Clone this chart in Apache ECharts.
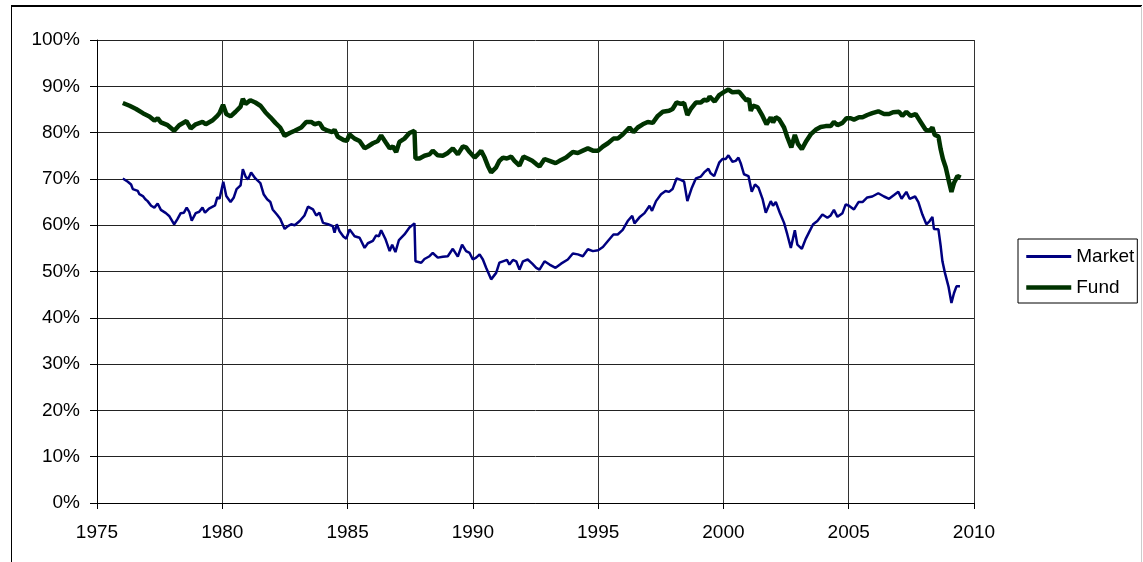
<!DOCTYPE html>
<html>
<head>
<meta charset="utf-8">
<title>Market vs Fund</title>
<script src="https://cdn.jsdelivr.net/npm/echarts@6/dist/echarts.min.js"></script>
<style>
  html, body { margin: 0; padding: 0; background: #fff; }
  #chart { width: 1143px; height: 562px; }
</style>
</head>
<body>
<div id="chart"></div>
<script>
// decimal years and percent values
var fundYears = [
  1976.03, 1976.30, 1976.56, 1976.83, 1977.09, 1977.29, 1977.42, 1977.55, 1977.82, 1978.08,
  1978.28, 1978.57, 1978.74, 1978.94, 1979.21, 1979.34, 1979.60, 1979.80, 1979.89, 1980.03,
  1980.16, 1980.33, 1980.53, 1980.73, 1980.82, 1980.93, 1981.12, 1981.32, 1981.52, 1981.72,
  1981.92, 1982.12, 1982.31, 1982.49, 1982.69, 1982.89, 1983.15, 1983.35, 1983.55, 1983.68,
  1983.88, 1984.02, 1984.22, 1984.39, 1984.48, 1984.61, 1984.84, 1984.97, 1985.08, 1985.28,
  1985.48, 1985.68, 1985.81, 1986.01, 1986.21, 1986.34, 1986.52, 1986.68, 1986.81, 1986.94,
  1987.07, 1987.27, 1987.47, 1987.67, 1987.71, 1987.87, 1988.07, 1988.27, 1988.40, 1988.60,
  1988.80, 1989.00, 1989.20, 1989.40, 1989.60, 1989.73, 1989.87, 1990.07, 1990.20, 1990.33,
  1990.47, 1990.60, 1990.73, 1990.93, 1991.06, 1991.20, 1991.36, 1991.53, 1991.66, 1991.86,
  1992.02, 1992.19, 1992.37, 1992.53, 1992.66, 1992.86, 1993.06, 1993.30, 1993.46, 1993.72,
  1993.99, 1994.19, 1994.39, 1994.59, 1994.79, 1995.00, 1995.19, 1995.39, 1995.61, 1995.78,
  1995.98, 1996.25, 1996.41, 1996.58, 1996.78, 1996.98, 1997.18, 1997.38, 1997.58, 1997.83,
  1997.97, 1998.13, 1998.30, 1998.43, 1998.56, 1998.70, 1998.90, 1999.10, 1999.23, 1999.36,
  1999.45, 1999.65, 1999.83, 2000.03, 2000.20, 2000.36, 2000.63, 2000.78, 2000.92, 2001.02,
  2001.09, 2001.18, 2001.36, 2001.56, 2001.72, 2001.89, 2001.98, 2002.09, 2002.22, 2002.42,
  2002.55, 2002.71, 2002.85, 2002.98, 2003.13, 2003.31, 2003.48, 2003.68, 2003.88, 2004.08,
  2004.28, 2004.41, 2004.55, 2004.75, 2004.91, 2005.08, 2005.21, 2005.41, 2005.55, 2005.74,
  2005.94, 2006.18, 2006.41, 2006.61, 2006.77, 2007.01, 2007.14, 2007.30, 2007.47, 2007.67,
  2007.87, 2008.07, 2008.23, 2008.34, 2008.43, 2008.58, 2008.67, 2008.76, 2008.87, 2008.98,
  2009.10, 2009.20, 2009.34, 2009.47
];
var fundValues = [
  86.4, 85.8, 85.1, 84.2, 83.5, 82.6, 83.1, 82.2, 81.6, 80.4,
  81.6, 82.5, 80.9, 81.8, 82.3, 81.8, 82.6, 83.6, 84.2, 86.0,
  84.0, 83.5, 84.5, 85.6, 87.3, 86.2, 87.0, 86.5, 85.8, 84.4,
  83.3, 82.1, 81.1, 79.3, 79.9, 80.4, 81.1, 82.3, 82.3, 81.8,
  82.1, 80.9, 80.4, 80.1, 80.6, 79.1, 78.4, 78.2, 79.6, 78.7,
  78.2, 76.6, 77.0, 77.7, 78.2, 79.4, 77.9, 76.6, 77.0, 75.8,
  78.0, 78.7, 79.9, 80.4, 74.4, 74.4, 75.0, 75.3, 76.1, 75.1,
  75.0, 75.6, 76.6, 75.3, 77.0, 76.8, 75.8, 74.6, 75.3, 76.1,
  74.6, 72.8, 71.4, 72.5, 73.9, 74.6, 74.4, 74.8, 73.9, 72.9,
  74.8, 74.4, 73.9, 73.2, 72.7, 74.3, 73.9, 73.4, 73.9, 74.6,
  75.8, 75.6, 76.1, 76.6, 76.1, 76.1, 77.0, 77.7, 78.7, 78.7,
  79.6, 81.1, 80.1, 81.1, 81.8, 82.3, 82.1, 83.6, 84.5, 84.7,
  85.1, 86.5, 86.2, 86.4, 83.8, 85.1, 86.5, 86.5, 87.1, 86.9,
  87.8, 86.7, 88.1, 88.8, 89.3, 88.7, 88.8, 87.8, 86.9, 87.3,
  84.7, 85.8, 85.5, 83.6, 81.8, 83.3, 82.2, 83.3, 82.9, 81.1,
  79.0, 76.8, 79.5, 77.5, 76.4, 78.2, 79.6, 80.6, 81.2, 81.4,
  81.4, 82.3, 81.6, 82.1, 83.1, 83.1, 82.8, 83.3, 83.3, 83.8,
  84.2, 84.6, 84.0, 84.0, 84.4, 84.5, 83.6, 84.5, 83.6, 84.0,
  82.3, 80.6, 80.4, 81.1, 79.5, 79.2, 76.4, 74.3, 72.5, 69.9,
  67.2, 69.1, 70.6, 70.3
];

var marketYears = [
  1976.03, 1976.23, 1976.36, 1976.43, 1976.63, 1976.69, 1976.83, 1976.93, 1977.02, 1977.16,
  1977.29, 1977.42, 1977.55, 1977.75, 1977.88, 1978.08, 1978.21, 1978.34, 1978.47, 1978.58,
  1978.68, 1978.78, 1978.94, 1979.08, 1979.21, 1979.31, 1979.47, 1979.71, 1979.80, 1979.89,
  1980.04, 1980.16, 1980.33, 1980.46, 1980.57, 1980.73, 1980.82, 1980.93, 1981.03, 1981.15,
  1981.32, 1981.52, 1981.65, 1981.79, 1981.92, 1982.01, 1982.18, 1982.31, 1982.49, 1982.62,
  1982.75, 1982.89, 1983.09, 1983.28, 1983.42, 1983.62, 1983.75, 1983.88, 1984.02, 1984.22,
  1984.41, 1984.48, 1984.57, 1984.68, 1984.84, 1984.95, 1985.08, 1985.28, 1985.48, 1985.68,
  1985.81, 1986.01, 1986.14, 1986.25, 1986.34, 1986.52, 1986.68, 1986.78, 1986.91, 1987.05,
  1987.27, 1987.47, 1987.67, 1987.71, 1987.94, 1988.07, 1988.27, 1988.40, 1988.60, 1988.80,
  1989.00, 1989.20, 1989.40, 1989.57, 1989.73, 1989.87, 1990.00, 1990.13, 1990.27, 1990.40,
  1990.53, 1990.73, 1990.93, 1991.06, 1991.20, 1991.36, 1991.46, 1991.60, 1991.73, 1991.86,
  1992.00, 1992.19, 1992.37, 1992.53, 1992.66, 1992.86, 1993.06, 1993.30, 1993.52, 1993.79,
  1993.99, 1994.19, 1994.39, 1994.59, 1994.79, 1995.00, 1995.19, 1995.39, 1995.61, 1995.78,
  1995.98, 1996.18, 1996.36, 1996.45, 1996.65, 1996.85, 1997.05, 1997.15, 1997.31, 1997.51,
  1997.69, 1997.83, 1997.97, 1998.13, 1998.30, 1998.43, 1998.56, 1998.74, 1998.90, 1999.10,
  1999.23, 1999.40, 1999.49, 1999.63, 1999.83, 1999.96, 2000.09, 2000.20, 2000.36, 2000.49,
  2000.60, 2000.69, 2000.82, 2001.00, 2001.13, 2001.26, 2001.40, 2001.56, 2001.69, 2001.89,
  2001.98, 2002.09, 2002.25, 2002.42, 2002.55, 2002.69, 2002.85, 2002.95, 2003.13, 2003.28,
  2003.42, 2003.58, 2003.75, 2003.95, 2004.15, 2004.28, 2004.41, 2004.55, 2004.75, 2004.88,
  2005.01, 2005.21, 2005.39, 2005.55, 2005.74, 2005.94, 2006.18, 2006.41, 2006.61, 2006.81,
  2006.98, 2007.11, 2007.30, 2007.43, 2007.65, 2007.78, 2007.94, 2008.10, 2008.23, 2008.34,
  2008.40, 2008.58, 2008.67, 2008.74, 2008.84, 2008.98, 2009.10, 2009.20, 2009.30, 2009.44
];
var marketValues = [
  70.1, 69.4, 68.8, 67.8, 67.4, 66.7, 66.3, 65.6, 65.2, 64.2,
  63.8, 64.7, 63.3, 62.6, 62.0, 60.2, 61.3, 62.6, 62.7, 63.8,
  62.9, 61.0, 62.6, 62.9, 63.8, 62.7, 63.6, 64.3, 66.0, 65.7,
  69.4, 66.3, 65.0, 66.0, 67.8, 68.6, 72.1, 70.5, 69.9, 71.4,
  70.1, 69.1, 66.7, 65.6, 65.0, 63.4, 62.3, 61.4, 59.2, 59.8,
  60.2, 60.0, 60.9, 62.1, 64.0, 63.4, 62.1, 62.7, 60.5, 60.2,
  59.8, 58.4, 60.2, 58.7, 57.5, 57.1, 59.1, 57.6, 57.3, 55.1,
  56.1, 56.6, 57.8, 57.6, 58.9, 56.9, 54.4, 55.8, 54.2, 56.8,
  58.0, 59.5, 60.4, 52.2, 51.9, 52.7, 53.3, 54.0, 53.0, 53.2,
  53.3, 54.9, 53.2, 55.8, 54.4, 54.0, 52.6, 53.0, 53.7, 52.6,
  50.8, 48.3, 49.7, 51.9, 52.2, 52.5, 51.5, 52.5, 52.2, 50.4,
  52.2, 52.6, 51.7, 50.8, 50.4, 52.2, 51.5, 50.8, 51.7, 52.6,
  53.9, 53.7, 53.3, 54.8, 54.4, 54.6, 55.3, 56.6, 58.0, 58.0,
  59.0, 60.9, 62.0, 60.4, 61.7, 62.6, 64.2, 63.1, 65.2, 66.7,
  67.4, 67.2, 67.8, 70.1, 69.8, 69.4, 65.2, 68.1, 70.1, 70.5,
  71.4, 72.2, 71.2, 70.6, 73.5, 74.3, 74.3, 75.1, 73.7, 73.9,
  74.6, 73.4, 71.0, 70.6, 67.2, 68.8, 68.1, 65.7, 62.7, 65.2,
  64.2, 65.0, 62.7, 60.5, 58.0, 55.1, 58.9, 55.8, 54.9, 57.0,
  58.5, 60.2, 60.9, 62.3, 61.6, 62.1, 63.3, 61.8, 62.6, 64.5,
  64.2, 63.4, 65.0, 65.0, 66.0, 66.2, 66.9, 66.2, 65.7, 66.5,
  67.2, 65.7, 67.2, 65.7, 66.2, 65.0, 62.3, 60.2, 60.9, 61.8,
  59.2, 59.1, 55.5, 52.2, 49.7, 46.8, 43.2, 45.3, 46.8, 46.8
];

function pairs(xs, ys) {
  return xs.map(function(x, i) { return [x, ys[i]]; });
}

var chart = echarts.init(document.getElementById('chart'));

var font = 'Liberation Sans, Arial, sans-serif';
var marketColor = '#000080';
var fundColor = '#003300';

var option = {
  backgroundColor: '#fff',
  animation: false,
  textStyle: { fontFamily: font },
  graphic: [
    { type: 'line', shape: { x1: 11, y1: 6, x2: 1142, y2: 6 }, style: { stroke: '#000', lineWidth: 2 } },
    { type: 'line', shape: { x1: 11.5, y1: 6, x2: 11.5, y2: 562 }, style: { stroke: '#000', lineWidth: 1 } },
    { type: 'line', shape: { x1: 1141.5, y1: 6, x2: 1141.5, y2: 562 }, style: { stroke: '#ccc', lineWidth: 1 } }
  ],
  grid: {
    left: 97,
    right: 169,
    top: 40,
    bottom: 59
  },
  legend: {
    orient: 'vertical',
    left: 1018,
    top: 239,
    data: [
      { name: 'Market', lineStyle: { color: marketColor, width: 3 } },
      { name: 'Fund', lineStyle: { color: fundColor, width: 4.5 } }
    ],
    itemWidth: 45,
    itemHeight: 14,
    itemGap: 10,
    padding: [7, 3, 5, 6],
    borderColor: '#000',
    borderWidth: 1,
    borderRadius: 0,
    itemStyle: { color: 'rgba(0,0,0,0)', borderColor: 'rgba(0,0,0,0)', borderWidth: 0 },
    textStyle: { fontSize: 19, lineHeight: 21, color: '#000', fontFamily: font }
  },
  xAxis: {
    type: 'value',
    min: 1975,
    max: 2010,
    interval: 5,
    axisLine: { show: true, lineStyle: { color: '#000', width: 1 } },
    axisTick: { show: true, length: 6, lineStyle: { color: '#000' } },
    axisLabel: {
      color: '#000', fontSize: 19, margin: 20, fontFamily: font,
      formatter: function(v) { return String(v); }
    },
    splitLine: { show: true, lineStyle: { color: '#333', width: 1 } }
  },
  yAxis: {
    type: 'value',
    min: 0,
    max: 100,
    interval: 10,
    axisLine: { show: true, lineStyle: { color: '#000', width: 1 } },
    axisTick: { show: true, length: 7, lineStyle: { color: '#000' } },
    axisLabel: { color: '#000', fontSize: 19, margin: 17, fontFamily: font, formatter: '{value}%' },
    splitLine: { show: true, lineStyle: { color: '#222', width: 1 } }
  },
  series: [
    {
      name: 'Market',
      type: 'line',
      symbol: 'none',
      data: pairs(marketYears, marketValues),
      lineStyle: { color: marketColor, width: 2.5 },
      itemStyle: { color: marketColor }
    },
    {
      name: 'Fund',
      type: 'line',
      symbol: 'none',
      data: pairs(fundYears, fundValues),
      lineStyle: { color: fundColor, width: 4.5 },
      itemStyle: { color: fundColor }
    }
  ]
};

chart.setOption(option);
</script>
</body>
</html>
